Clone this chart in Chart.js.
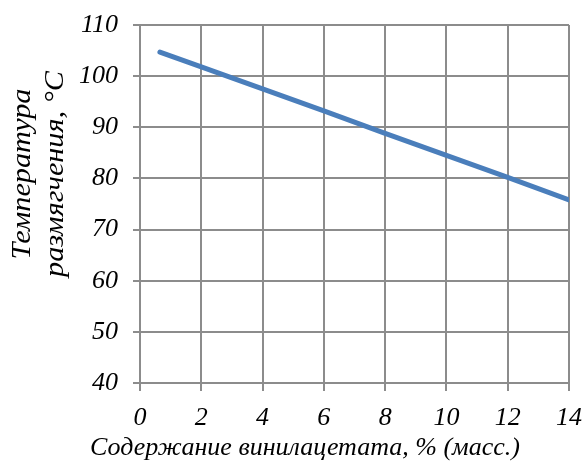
<!doctype html>
<html lang="ru">
  <head>
    <script src="https://cdn.jsdelivr.net/npm/chart.js"></script>
    <meta charset="UTF-8" />
    <title>Температура размягчения</title>
    <style>
      html, body {
        margin: 0;
        padding: 0;
        background: #fff;
      }
      #wrap {
        width: 582px;
        height: 462px;
      }
    </style>
  </head>
  <body>
    <div id="wrap"><canvas id="myChart" width="582" height="462"></canvas></div>

    <script>
      // values
      const vinylAcetate = [0.65, 2, 4, 6, 8, 10, 12, 14];
      const softeningTemp = [104.7, 101.8, 97.5, 93.2, 88.8, 84.5, 80.2, 75.8];
      const xTitle = "Содержание винилацетата, % (масс.)";
      const yTitle = ["Температура", "размягчения, °С"];

      const serif = "'Liberation Serif', 'Times New Roman', serif";
      const gridColor = "#8c8c8c";

      // axis titles sit off-centre in the original, so draw them by hand
      const axisTitles = {
        id: "axisTitles",
        afterDraw(chart) {
          const ctx = chart.ctx;
          ctx.save();
          ctx.fillStyle = "#000";
          ctx.font = "italic 26px " + serif;
          ctx.textAlign = "center";
          ctx.textBaseline = "alphabetic";
          ctx.fillText(xTitle, 305, 455);

          ctx.translate(0, 174);
          ctx.rotate(-Math.PI / 2);
          ctx.scale(1.12, 1);
          ctx.font = "italic 27px " + serif;
          ctx.fillText(yTitle[0], 0, 30);
          ctx.fillText(yTitle[1], 0, 63);
          ctx.restore();
        },
      };

      const ctx = document.getElementById("myChart").getContext("2d");
      new Chart(ctx, {
        type: "scatter",
        data: {
          datasets: [
            {
              data: vinylAcetate.map((x, i) => ({ x: x, y: softeningTemp[i] })),
              showLine: true,
              borderColor: "#4a7ebb",
              borderWidth: 5,
              borderCapStyle: "round",
              pointRadius: 0,
              tension: 0,
            },
          ],
        },
        options: {
          responsive: false,
          animation: false,
          layout: { padding: { left: 0, right: 13, top: 25, bottom: 0 } },
          plugins: {
            legend: { display: false },
            tooltip: { enabled: false },
          },
          scales: {
            x: {
              type: "linear",
              min: 0,
              max: 14,
              afterFit: (scale) => {
                scale.height = 79;
                scale.paddingLeft = 0;
                scale.paddingRight = 0;
              },
              ticks: {
                stepSize: 2,
                padding: 12,
                maxRotation: 0,
                color: "#000",
                font: { family: serif, size: 26, style: "italic" },
              },
              grid: {
                color: gridColor,
                lineWidth: 2,
                tickLength: 8,
              },
              border: { color: gridColor, width: 2 },
            },
            y: {
              min: 40,
              max: 110,
              afterFit: (scale) => {
                scale.width = 140;
                scale.paddingTop = 0;
                scale.paddingBottom = 0;
              },
              ticks: {
                stepSize: 10,
                padding: 15,
                color: "#000",
                font: { family: serif, size: 26, style: "italic" },
              },
              grid: {
                color: gridColor,
                lineWidth: 2,
                tickLength: 7,
              },
              border: { color: gridColor, width: 2 },
            },
          },
        },
        plugins: [axisTitles],
      });
    </script>
  </body>
</html>
